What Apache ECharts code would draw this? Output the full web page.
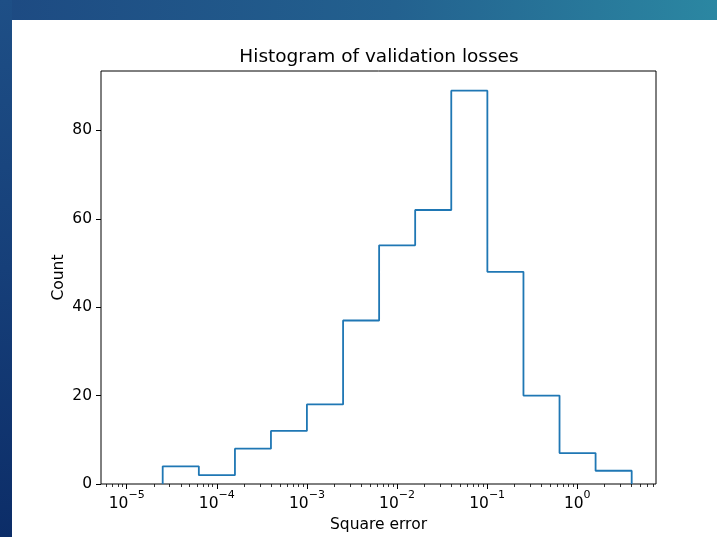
<!DOCTYPE html>
<html>
<head>
<meta charset="utf-8">
<script src="https://cdn.jsdelivr.net/npm/echarts@6/dist/echarts.min.js"></script>
<style>
  html, body { margin: 0; padding: 0; }
  body { width: 717px; height: 537px; position: relative; overflow: hidden; background: #ffffff; }
  #bandTop { position: absolute; left: 0; top: 0; width: 717px; height: 20px;
    background: linear-gradient(to right, #1d4a82 0%, #23618f 55%, #2b87a2 100%); }
  #bandLeft { position: absolute; left: 0; top: 0; width: 12px; height: 537px;
    background: linear-gradient(to bottom, #1e4f86 0%, #163f79 50%, #0c2d68 100%); }
  #chart { position: absolute; left: 0; top: 0; width: 717px; height: 537px; }
</style>
</head>
<body>
<div id="bandTop"></div>
<div id="bandLeft"></div>
<div id="chart"></div>
<script>
// Histogram bin edges (square error) and the count in each bin
const binEdges = [2.51e-5, 6.32e-5, 1.59e-4, 3.99e-4, 1.00e-3, 2.52e-3, 6.33e-3,
                  1.59e-2, 4.00e-2, 1.006e-1, 2.53e-1, 6.36e-1, 1.598, 4.02];
const counts = [4, 2, 8, 12, 18, 37, 54, 62, 89, 48, 20, 7, 3];

// Axis ticks: decades on the log x axis, counts on y
const xDecades = [-5, -4, -3, -2, -1, 0];
const yTicks = [0, 20, 40, 60, 80];

const xMin = -5.285, xMax = 0.874;   // log10 range of the x axis
const yMax = 93.45;

// Minor ticks at 2..9 × 10^e inside the axis range
const minorTicks = [];
for (let e = -6; e <= 0; e++) {
  for (let k = 2; k <= 9; k++) {
    const v = Math.log10(k) + e;
    if (v >= xMin && v <= xMax) minorTicks.push(v);
  }
}

// Step outline of the histogram (histtype="step")
const stepPoints = [[Math.log10(binEdges[0]), 0]];
counts.forEach((c, i) => {
  stepPoints.push([Math.log10(binEdges[i]), c]);
  stepPoints.push([Math.log10(binEdges[i + 1]), c]);
});
stepPoints.push([Math.log10(binEdges[binEdges.length - 1]), 0]);

const FONT = 'DejaVu Sans';
const chart = echarts.init(document.getElementById('chart'), null, { renderer: 'canvas' });

chart.setOption({
  animation: false,
  backgroundColor: 'transparent',
  title: {
    text: 'Histogram of validation losses',
    left: 374,
    textAlign: 'center',
    top: 43,
    textStyle: { fontFamily: FONT, fontSize: 18.5, fontWeight: 'normal', color: '#000' }
  },
  grid: {
    left: 101, right: 61, top: 71, bottom: 53,
    outerBoundsMode: 'none',
    containLabel: false,
    show: true, borderColor: '#000', borderWidth: 1, backgroundColor: '#fff'
  },
  xAxis: [
    {
      type: 'value', min: xMin, max: xMax,
      name: 'Square error', nameLocation: 'middle', nameGap: 33,
      nameMoveOverlap: false,
      nameTextStyle: { fontFamily: FONT, fontSize: 15.5, color: '#000' },
      axisLine: { show: false, onZero: false },
      splitLine: { show: false },
      axisTick: { show: true, length: 5, customValues: xDecades, lineStyle: { color: '#000', width: 1 } },
      axisLabel: {
        customValues: xDecades, margin: 6, color: '#000',
        formatter: v => '{b|10}{s|' + (v < 0 ? '\u2212' + (-v) : String(v)) + '}',
        rich: {
          b: { fontFamily: FONT, fontSize: 15.5, color: '#000', lineHeight: 22, verticalAlign: 'bottom' },
          s: { fontFamily: FONT, fontSize: 11, color: '#000', lineHeight: 12, verticalAlign: 'top' }
        }
      }
    },
    {
      type: 'value', min: xMin, max: xMax, position: 'bottom',
      axisLine: { show: false, onZero: false },
      splitLine: { show: false },
      axisTick: { show: true, length: 3, customValues: minorTicks, lineStyle: { color: '#000', width: 0.8 } },
      axisLabel: { show: false }
    }
  ],
  yAxis: {
    type: 'value', min: 0, max: yMax,
    name: 'Count', nameLocation: 'middle', nameGap: 34, nameRotate: 90,
    nameMoveOverlap: false,
    nameTextStyle: { fontFamily: FONT, fontSize: 15.5, color: '#000' },
    axisLine: { show: false, onZero: false },
    splitLine: { show: false },
    axisTick: { show: true, length: 5, customValues: yTicks, lineStyle: { color: '#000', width: 1 } },
    axisLabel: { customValues: yTicks, margin: 9, fontFamily: FONT, fontSize: 15.5, color: '#000' }
  },
  series: [{
    type: 'line',
    xAxisIndex: 0,
    data: stepPoints,
    symbol: 'none',
    lineStyle: { color: '#1f77b4', width: 1.8 },
    silent: true
  }]
});
</script>
</body>
</html>
